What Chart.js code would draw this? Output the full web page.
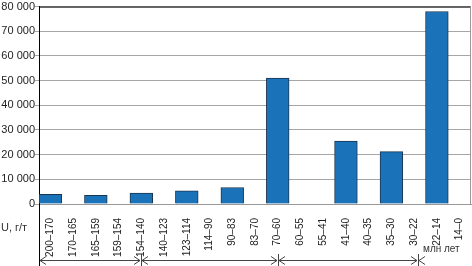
<!DOCTYPE html>
<html>
<head>
<meta charset="utf-8">
<script src="https://cdn.jsdelivr.net/npm/chart.js@4.4.1/dist/chart.umd.min.js"></script>
<style>
  html, body { margin: 0; padding: 0; background: #fff; }
  #wrap { width: 472px; height: 266px; }
</style>
</head>
<body>
<div id="wrap"><canvas id="uChart" width="472" height="266"></canvas></div>
<script>
// возрастные интервалы, млн лет
const periods = [
    '200–170', '170–165', '165–159', '159–154', '154–140', '140–123',
    '123–114', '114–90', '90–83', '83–70', '70–60', '60–55', '55–41',
    '41–40', '40–35', '35–30', '30–22', '22–14', '14–0'
];

// содержание U, г/т
const uValues = [
    3900, 0, 3500, 0, 4400, 0, 5300, 0, 6700, 0, 51000, 0, 0,
    25500, 0, 21200, 0, 78000, 0
];

const yTicks = [0, 10000, 20000, 30000, 40000, 50000, 60000, 70000, 80000];

// границы стрелок под осью (в индексах категорий)
const arrowBounds = [-0.5, 4, 10, 16.15];

function fmt(v) {
    return String(v).replace(/\B(?=(\d{3})+(?!\d))/g, ' ');
}

function arrowHead(ctx, x, y, dir) {
    ctx.beginPath();
    ctx.moveTo(x + dir * 6, y - 4);
    ctx.lineTo(x, y);
    ctx.lineTo(x + dir * 6, y + 4);
    ctx.stroke();
}

const decorPlugin = {
    id: 'decor',
    afterDraw(chart) {
        const ctx = chart.ctx;
        const area = chart.chartArea;
        const xs = chart.scales.x;
        ctx.save();

        // рамка
        ctx.lineWidth = 1;
        ctx.strokeStyle = '#000';
        ctx.beginPath();
        ctx.moveTo(area.left, area.top + 0.5);
        ctx.lineTo(area.right, area.top + 0.5);
        ctx.stroke();
        ctx.strokeStyle = '#999';
        ctx.beginPath();
        ctx.moveTo(area.right - 0.5, area.top);
        ctx.lineTo(area.right - 0.5, area.bottom);
        ctx.stroke();

        // ось продолжается вниз
        ctx.strokeStyle = '#000';
        ctx.beginPath();
        ctx.moveTo(area.left + 0.5, area.bottom);
        ctx.lineTo(area.left + 0.5, 266);
        ctx.stroke();

        // стрелки периодов
        const ay = 260.5;
        ctx.strokeStyle = '#444';
        const px = arrowBounds.map(b => Math.round(xs.getPixelForValue(b)));
        for (let i = 0; i < px.length - 1; i++) {
            const a = px[i] + 1, b = px[i + 1] - 1;
            ctx.beginPath();
            ctx.moveTo(a, ay);
            ctx.lineTo(b, ay);
            ctx.stroke();
            arrowHead(ctx, a, ay, 1);
            arrowHead(ctx, b, ay, -1);
        }
        arrowHead(ctx, px[px.length - 1] + 1, ay, 1);
        for (let i = 1; i < px.length; i++) {
            ctx.beginPath();
            ctx.moveTo(px[i] + 0.5, 254);
            ctx.lineTo(px[i] + 0.5, 266);
            ctx.stroke();
        }

        // подписи
        ctx.fillStyle = '#333';
        ctx.font = '11px "Liberation Sans", Arial, sans-serif';
        ctx.textBaseline = 'middle';
        ctx.textAlign = 'left';
        ctx.fillText('U, г/т', 1, 228);
        ctx.font = '10px "Liberation Sans", Arial, sans-serif';
        ctx.fillText('млн лет', 423, 249);
        ctx.restore();
    }
};

const ctx = document.getElementById('uChart').getContext('2d');
const uChart = new Chart(ctx, {
    type: 'bar',
    data: {
        labels: periods,
        datasets: [{
            data: uValues,
            backgroundColor: '#1a72b9',
            borderColor: '#1b3550',
            borderWidth: 1,
            barPercentage: 1,
            categoryPercentage: 1
        }]
    },
    options: {
        responsive: false,
        animation: false,
        layout: { padding: { top: 3, right: 1, left: 0, bottom: 0 } },
        plugins: {
            legend: { display: false },
            tooltip: { enabled: false }
        },
        scales: {
            x: {
                grid: { display: false },
                border: { color: '#999' },
                ticks: {
                    color: '#222',
                    font: { family: '"Liberation Sans", Arial, sans-serif', size: 10 },
                    minRotation: 90,
                    maxRotation: 90,
                    autoSkip: false,
                    padding: 6
                },
                afterFit(scale) {
                    scale.height = 62;
                    scale.paddingLeft = 0;
                    scale.paddingRight = 0;
                }
            },
            y: {
                min: 0,
                max: 80000,
                afterBuildTicks(scale) { scale.ticks = yTicks.map(v => ({ value: v })); },
                grid: { color: '#a6a6a6', lineWidth: 1, tickLength: 4 },
                border: { color: '#000' },
                ticks: {
                    color: '#222',
                    font: { family: '"Liberation Sans", Arial, sans-serif', size: 11 },
                    padding: 0,
                    callback: v => fmt(v)
                },
                afterFit(scale) { scale.width = 39; }
            }
        }
    },
    plugins: [decorPlugin]
});
</script>
</body>
</html>
